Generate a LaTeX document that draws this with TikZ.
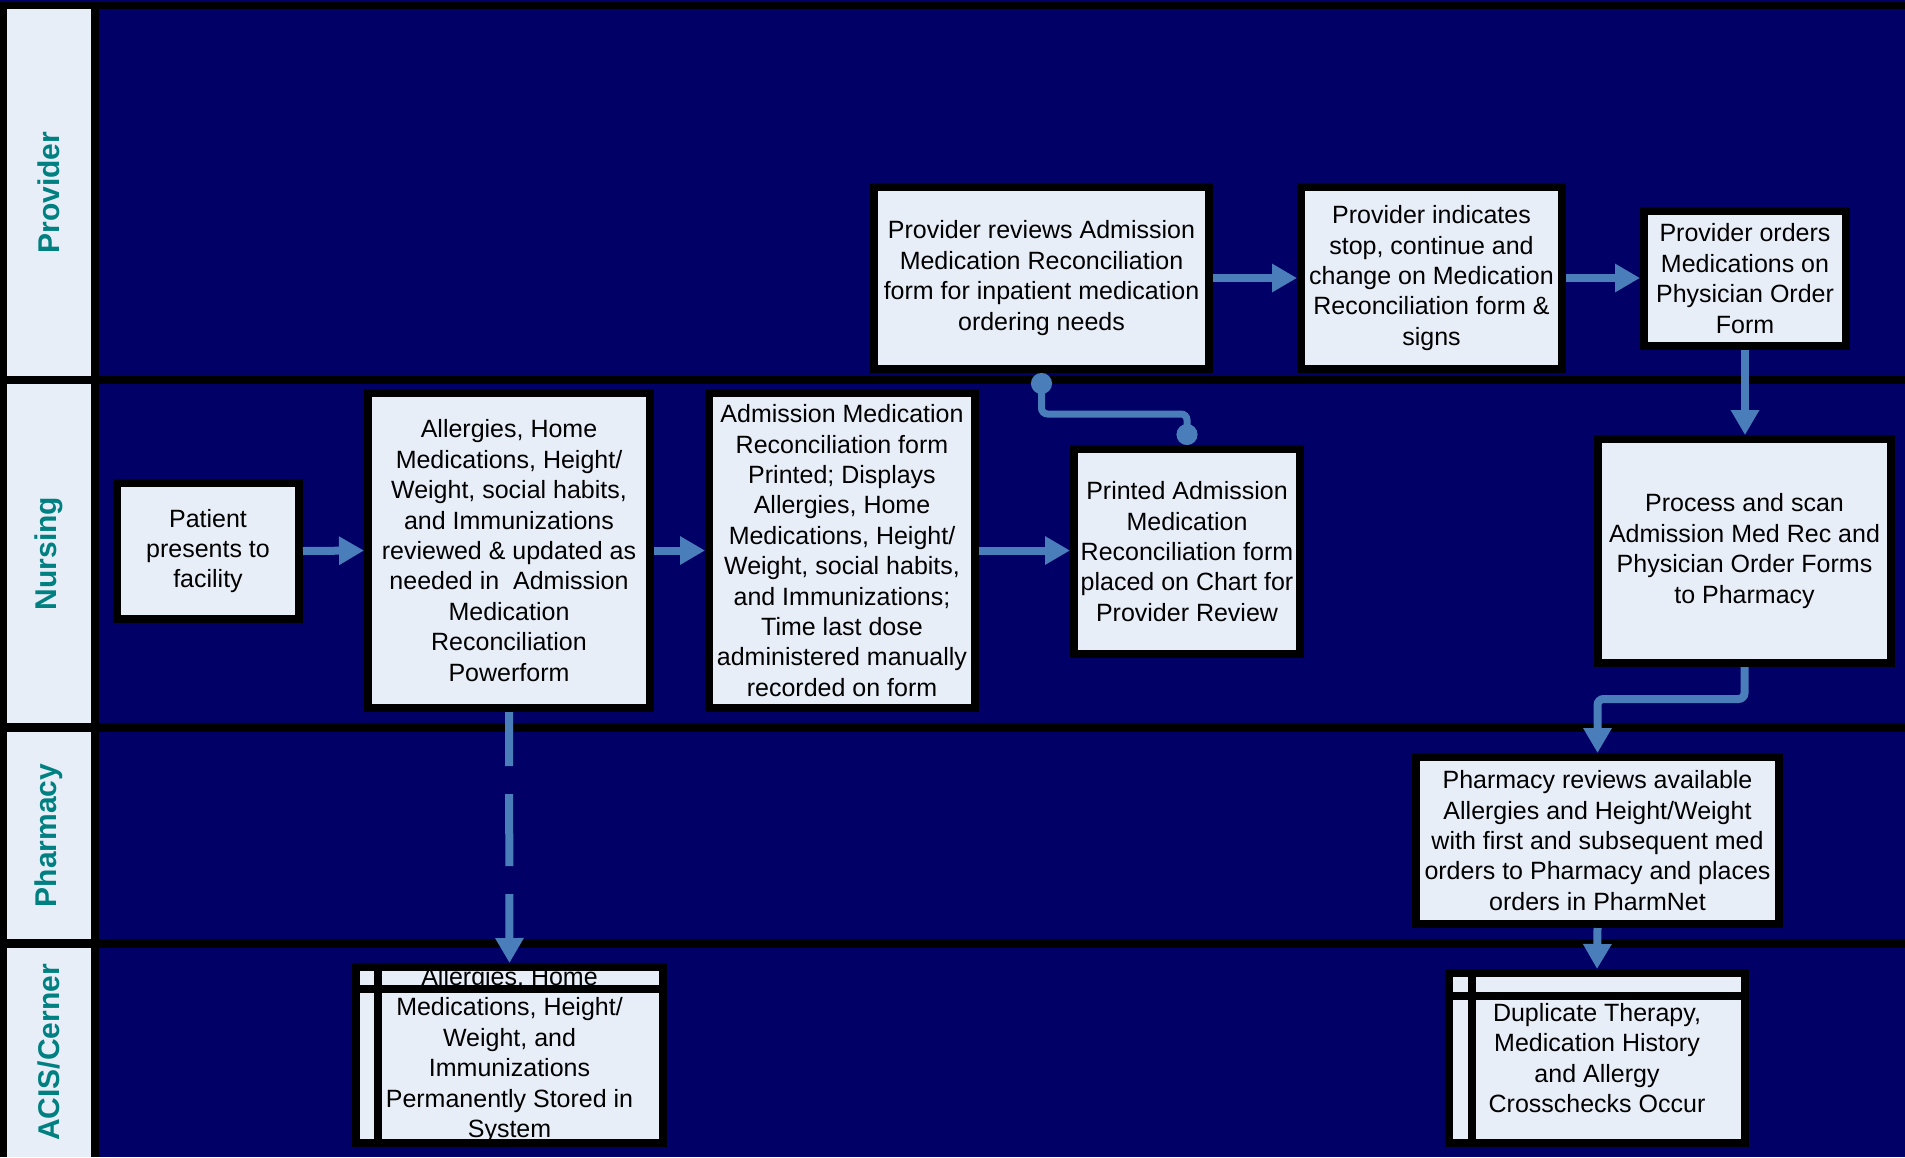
\documentclass[tikz,border=0pt]{standalone}
\usepackage{fontspec}
\setmainfont{Liberation Sans}
\usepackage{xcolor}
\usepackage{tikz}
\usetikzlibrary{arrows.meta}

\definecolor{lanenavy}{HTML}{000066}
\definecolor{lanelight}{HTML}{E8EEF8}
\definecolor{laneteal}{HTML}{008080}
\definecolor{flowblue}{HTML}{4A7EBB}
\definecolor{boxfill}{HTML}{E8EEF8}

\begin{document}
\begin{tikzpicture}[x = 0.5pt, y = -0.5pt,
  box/.style = {draw, line width = 4pt, fill = boxfill, align = center, inner sep = 2pt, font = \fontsize{12.5pt}{15.2pt}\selectfont},
  storebox/.style = {fill = boxfill, inner sep = 0pt, outer sep = 0pt},
  storetext/.style = {align = center, inner sep = 0pt, font = \fontsize{12.5pt}{15.2pt}\selectfont},
  storeline/.style = {line width = 4pt},
  lanename/.style = {rotate = 90, text = laneteal, font = \fontsize{15pt}{18pt}\selectfont\bfseries},
  flowarrow/.style = {draw = flowblue, line width = 4pt, -{Triangle[length = 12.5pt, width = 13.5pt]}},
  dotlink/.style = {draw = flowblue, line width = 3.5pt, rounded corners = 3pt, {Circle[length = 10.5pt]}-{Circle[length = 10.5pt]}}]
\def\picW{1905}
\def\picH{1157}
\def\labL{7}
\def\labR{91}
\def\labC{49}
\def\laneL{99}

\useasboundingbox (0, 0) rectangle (\picW, \picH);

% frame
\fill [black] (0, 0) rectangle (\picW, \picH);
\fill [lanenavy] (0, 0) rectangle (\picW, 2);

% provider lane
\fill [lanelight] (\labL, 9) rectangle (\labR, 376);
\fill [lanenavy] (\laneL, 9) rectangle (\picW, 376);
\node [lanename] (provider) at (\labC, 192.5) {Provider};

% nursing lane
\fill [lanelight] (\labL, 384) rectangle (\labR, 723);
\fill [lanenavy] (\laneL, 384) rectangle (\picW, 723);
\node [lanename] (nursing) at (\labC, 553.5) {Nursing};

% pharmacy lane
\fill [lanelight] (\labL, 732) rectangle (\labR, 939);
\fill [lanenavy] (\laneL, 732) rectangle (\picW, 939);
\node [lanename] (pharmacy) at (\labC, 835.5) {Pharmacy};

% acis lane
\fill [lanelight] (\labL, 948) rectangle (\labR, \picH);
\fill [lanenavy] (\laneL, 948) rectangle (\picW, \picH);
\node [lanename] (acis) at (\labC, 1052.5) {ACIS/Cerner};

% nursing steps
\node [box, minimum width = 91pt, minimum height = 68pt] (patient) at (208, 551) {Patient\\presents to\\facility};
\node [box, minimum width = 141pt, minimum height = 157.5pt] (review) at (509, 550.5) {Allergies, Home\\Medications, Height/\\Weight, social habits,\\and Immunizations\\reviewed \& updated as\\needed in~ Admission\\Medication\\Reconciliation\\Powerform};
\node [box, minimum width = 133pt, minimum height = 157.5pt] (printed) at (842, 550.5) {Admission Medication\\Reconciliation form\\Printed; Displays\\Allergies, Home\\Medications, Height/\\Weight, social habits,\\and Immunizations;\\Time last dose\\administered manually\\recorded on form};
\node [box, minimum width = 113pt, minimum height = 102.5pt] (chart) at (1187, 551.5) {Printed Admission\\Medication\\Reconciliation form\\placed on Chart for\\Provider Review};
\node [box, minimum width = 146.5pt, minimum height = 112pt] (scan) at (1744.5, 551) {Process and scan\\Admission Med Rec and\\Physician Order Forms\\to Pharmacy};

% provider steps
\node [box, minimum width = 167.5pt, minimum height = 91pt] (provrev) at (1041.5, 278) {Provider reviews Admission\\Medication Reconciliation\\form for inpatient medication\\ordering needs};
\node [box, minimum width = 130.5pt, minimum height = 91pt] (indicate) at (1431.5, 278) {Provider indicates\\stop, continue and\\change on Medication\\Reconciliation form \&\\signs};
\node [box, minimum width = 101pt, minimum height = 67.5pt] (orders) at (1745, 278.5) {Provider orders\\Medications on\\Physician Order\\Form};

% pharmacy step
\node [box, minimum width = 181.5pt, minimum height = 83.5pt] (pharmrev) at (1597.5, 840.5) {Pharmacy reviews available\\Allergies and Height/Weight\\with first and subsequent med\\orders to Pharmacy and places\\orders in PharmNet};

% stored data
\node [storebox, minimum width = 153.5pt, minimum height = 88pt] (stored) at (509.5, 1055) {};
\node [storetext] (storedtext) at (stored.center) {Allergies, Home\\Medications, Height/\\Weight, and\\Immunizations\\Permanently Stored in\\System};
\draw [storeline] (stored.north west) rectangle (stored.south east);
\draw [storeline] ([xshift = 11pt] stored.north west) -- ([xshift = 11pt] stored.south west);
\draw [storeline] ([yshift = -11pt] stored.north west) -- ([yshift = -11pt] stored.north east);

\node [storebox, minimum width = 148pt, minimum height = 85pt] (checks) at (1597, 1058) {};
\node [storetext] (checkstext) at (checks.center) {Duplicate Therapy,\\Medication History\\and Allergy\\Crosschecks Occur};
\draw [storeline] (checks.north west) rectangle (checks.south east);
\draw [storeline] ([xshift = 11.25pt] checks.north west) -- ([xshift = 11.25pt] checks.south west);
\draw [storeline] ([yshift = -11.25pt] checks.north west) -- ([yshift = -11.25pt] checks.north east);

% flow
\draw [flowarrow] (patient.east) -- (review.west);
\draw [flowarrow] (review.east) -- (printed.west);
\draw [flowarrow] (printed.east) -- (printed.east -| chart.west);
\draw [flowarrow] (provrev.east) -- (indicate.west);
\draw [flowarrow] (indicate.east) -- (indicate.east -| orders.west);
\draw [flowarrow] (orders.south) -- (orders.south |- scan.north);
\draw [flowarrow, rounded corners = 3pt] (scan.south) -- ++(0, 32) -| (pharmrev.north);
\draw [flowarrow] (pharmrev.south) -- ([yshift = 2pt] checks.north);
\draw [flowarrow, dash pattern = on 36pt off 14pt, dash phase = 9pt] (review.south) -- ([yshift = 2pt] stored.north);
\draw [dotlink] (provrev.south) -- ++(0, 41) -| (chart.north);
\end{tikzpicture}
\end{document}
